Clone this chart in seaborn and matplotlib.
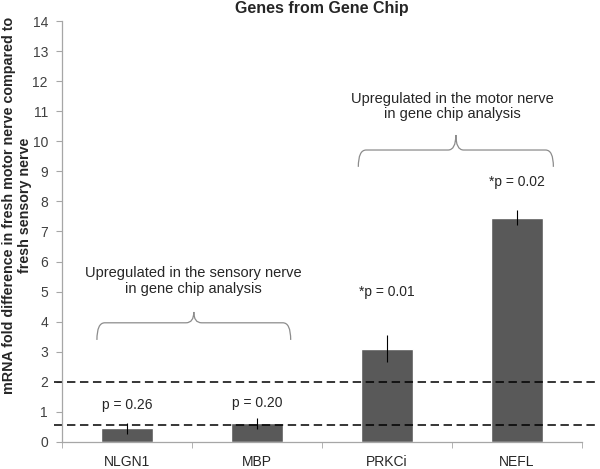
import numpy as np
import pandas as pd
import seaborn as sns
import matplotlib.pyplot as plt
from matplotlib.path import Path
from matplotlib.patches import PathPatch

# data
genes = ["NLGN1", "MBP", "PRKCi", "NEFL"]
fold = [0.45, 0.62, 3.1, 7.45]
err = [0.18, 0.18, 0.45, 0.25]
pvals = ["p = 0.26", "p = 0.20", "*p = 0.01", "*p = 0.02"]
pval_y = [1.23, 1.3, 5.0, 8.65]
thresholds = [0.55, 2.0]

sns.set_style("white")
plt.rcParams['font.family'] = ['Liberation Sans', 'DejaVu Sans']

df = pd.DataFrame({"gene": genes, "fold": fold})

fig = plt.figure(figsize=(6, 4.69), dpi=100)
ax = fig.add_axes([0.103, 0.058, 0.867, 0.897])

sns.barplot(data=df, x="gene", y="fold", color="#595959", saturation=1,
            width=0.4, errorbar=None, ax=ax)
ax.errorbar(np.arange(len(genes)), fold, yerr=err, fmt="none",
            ecolor="black", elinewidth=0.8, capsize=0)

# p-value labels above bars
for i, (yy, txt) in enumerate(zip(pval_y, pvals)):
    ax.text(i, yy, txt, ha="center", va="center", fontsize=10)

# threshold lines run past the axes on both sides
for t in thresholds:
    ax.axhline(t, xmin=-0.015, xmax=1.03, color="black", lw=1.1,
               ls=(0, (5.5, 3)), clip_on=False)


def brace(x0, x1, y, h_end, h_mid, r=0.06):
    xm = (x0 + x1) / 2
    verts = [(x0, y - h_end), (x0, y), (x0 + r, y),
             (xm - r, y), (xm, y), (xm, y + h_mid),
             (xm, y), (xm + r, y),
             (x1 - r, y), (x1, y), (x1, y - h_end)]
    codes = [Path.MOVETO, Path.CURVE3, Path.CURVE3,
             Path.LINETO, Path.CURVE3, Path.CURVE3,
             Path.CURVE3, Path.CURVE3,
             Path.LINETO, Path.CURVE3, Path.CURVE3]
    ax.add_patch(PathPatch(Path(verts, codes), fill=False,
                           edgecolor="#8c8c8c", lw=0.9))
    return xm


xs = brace(-0.23, 1.26, 3.96, 0.57, 0.36)
ax.text(xs, 5.35, "Upregulated in the sensory nerve\nin gene chip analysis",
        ha="center", va="center", fontsize=10.5, linespacing=1.1)
xm = brace(1.78, 3.28, 9.71, 0.56, 0.5)
ax.text(xm - 0.03, 11.17, "Upregulated in the motor nerve\nin gene chip analysis",
        ha="center", va="center", fontsize=10.5, linespacing=1.1)

ax.set_ylim(0, 14)
ax.set_xlim(-0.5, 3.5)
ax.set_yticks(range(0, 15))
ax.set_xlabel("")
ax.set_ylabel("mRNA fold difference in fresh motor nerve compared to\nfresh sensory nerve",
              fontsize=10.3, fontweight="bold", linespacing=1.15)
ax.yaxis.set_label_coords(-0.058, 0.563)
ax.set_title("Genes from Gene Chip", fontsize=11.5, fontweight="bold", pad=6)

for s in ["top", "right"]:
    ax.spines[s].set_visible(False)
for s in ["left", "bottom"]:
    ax.spines[s].set_color("#a6a6a6")
    ax.spines[s].set_linewidth(0.9)

ax.tick_params(axis="y", left=True, length=4, color="#a6a6a6",
               labelsize=10, labelcolor="#404040", pad=6)
ax.tick_params(axis="x", bottom=False, labelsize=10, pad=6)
ax.set_xticks(np.arange(-0.5, 4, 1.0), minor=True)
ax.tick_params(axis="x", which="minor", bottom=True, length=4, color="#a6a6a6")

fig.savefig("out.png", dpi=100)
